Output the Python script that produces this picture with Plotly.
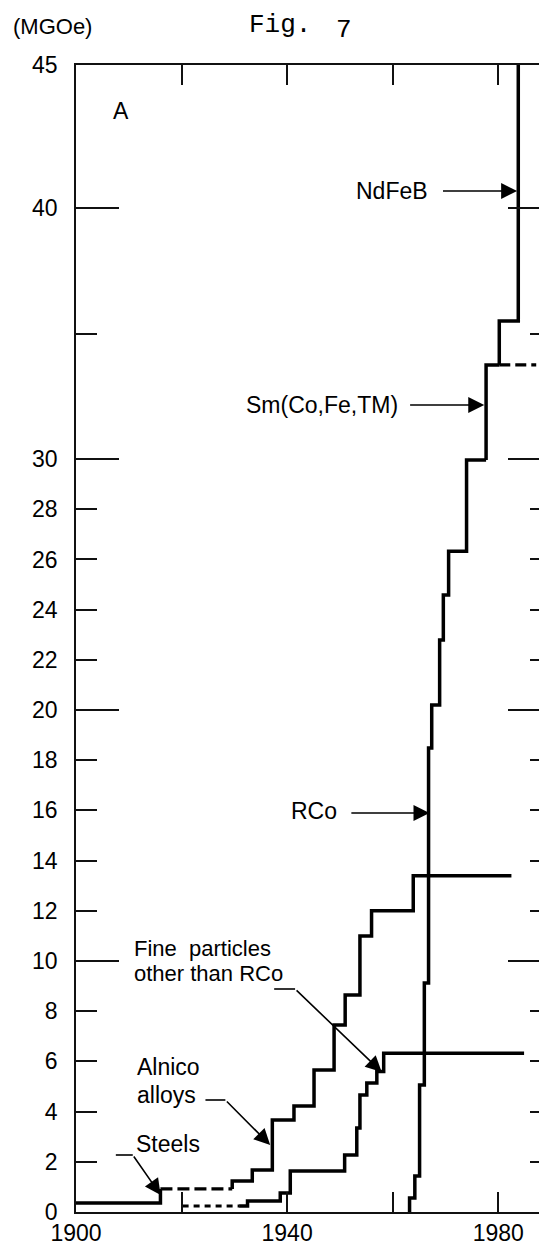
import plotly.graph_objects as go

# ---------------- data: year vs. (BH)max in MGOe ----------------
steel_years = [1900, 1916.0]
steel_vals = [0.36, 0.92]
steel_trans_years = [1916.0, 1929.6]
steel_trans_vals = [0.92, 0.92]

alnico_years = [1929.6, 1929.6, 1933.4, 1937.2, 1941.3, 1945.1, 1948.9, 1951.0, 1953.8, 1956.0, 1963.9, 1982.5]
alnico_vals = [0.92, 1.24, 1.67, 3.67, 4.22, 5.66, 7.45, 8.65, 11.0, 12.0, 13.4, 13.4]

fine_early_years = [1920.2, 1930.9]
fine_early_vals = [0.24, 0.24]
fine_years = [1930.9, 1932.5, 1938.7, 1940.6, 1950.9, 1953.2, 1953.8, 1955.1, 1957.0, 1958.3, 1984.9]
fine_vals = [0.24, 0.44, 0.76, 1.63, 2.27, 3.35, 4.66, 5.14, 5.6, 6.33, 6.33]

rco_years = [1963.2, 1964.2, 1965.1, 1966.0, 1966.8, 1967.4, 1968.9, 1969.6, 1970.6, 1974.0, 1977.7]
rco_vals = [0, 0.56, 1.43, 5.06, 9.12, 18.49, 20.2, 22.79, 24.58, 26.33, 29.96]

sm_years = [1977.7, 1980.2]
sm_vals = [29.96, 33.75]
sm_dash_years = [1980.2, 1987.2]
sm_dash_vals = [33.75, 33.75]

nd_years = [1980.2, 1983.8, 1983.8]
nd_vals = [33.75, 35.5, 46.0]

x_tick_vals = [1900, 1920, 1940, 1960, 1980]
x_tick_text = ["1900", "", "1940", "", "1980"]
y_tick_vals = [0, 2, 4, 6, 8, 10, 12, 14, 16, 18, 20, 22, 24, 26, 28, 30, 35, 40, 45.69]
y_tick_text = ["0", "2", "4", "6", "8", "10", "12", "14", "16", "18", "20", "22", "24",
               "26", "28", "30", "", "40", "45"]
y_major_vals = [10, 20, 30, 40]

# ---------------- layout geometry ----------------
W, H = 547, 1251
L, R, T, B = 68, 545, 57, 1204
X0, X1 = 1900, 1990
Y0, Y1 = 0, 45.7


def px_x(px):
    return X0 + (px - L) / (R - L) * (X1 - X0)


def px_y(py):
    return Y0 + (B - py) / (B - T) * (Y1 - Y0)


def paper_x(px):
    return (px - L) / (R - L)


def paper_y(py):
    return (B - py) / (B - T)


FONT = "Liberation Sans, Arial, Helvetica, sans-serif"
LW = 3.5

fig = go.Figure()


def add_line(xs, ys, shape="linear", dash="solid", width=LW):
    fig.add_trace(go.Scatter(x=xs, y=ys, mode="lines",
                             line=dict(color="black", width=width, shape=shape, dash=dash),
                             showlegend=False, hoverinfo="skip"))


add_line(steel_years, steel_vals, shape="hv")
add_line(steel_trans_years, steel_trans_vals, dash="12px,5px", width=3.2)
add_line(alnico_years, alnico_vals, shape="hv")
add_line(fine_early_years, fine_early_vals, dash="6px,5px", width=3.2)
add_line(fine_years, fine_vals, shape="hv")
add_line(rco_years, rco_vals, shape="vh")
add_line(sm_years, sm_vals, shape="vh")
add_line(sm_dash_years, sm_dash_vals, dash="11px,5px", width=3.2)
add_line(nd_years, nd_vals, shape="vh")

# ---------------- annotations ----------------
ann = []


def text(px, py, s, xanchor="center", size=23, fam=FONT, ref="data"):
    if ref == "data":
        ann.append(dict(x=px_x(px), y=px_y(py), xref="x", yref="y", text=s, showarrow=False,
                        xanchor=xanchor, yanchor="middle", font=dict(family=fam, size=size, color="black")))
    else:
        ann.append(dict(x=paper_x(px), y=paper_y(py), xref="paper", yref="paper", text=s,
                        showarrow=False, xanchor=xanchor, yanchor="middle",
                        font=dict(family=fam, size=size, color="black")))


def arrow(tx, ty, hx, hy):
    ann.append(dict(x=px_x(hx), y=px_y(hy), ax=px_x(tx), ay=px_y(ty), xref="x", yref="y",
                    axref="x", ayref="y", text="", showarrow=True, arrowhead=2,
                    arrowsize=2.0, arrowwidth=1.6, arrowcolor="black", standoff=0,
                    startstandoff=0))


text(44, 19, "(MGOe)", ref="paper", size=22)
text(240, 17, "Fig.", xanchor="left", ref="paper", size=26,
     fam="Liberation Mono, Courier New, monospace")
text(327, 22, "7", xanchor="left", ref="paper", size=26,
     fam="Liberation Mono, Courier New, monospace")
text(113, 103, "A")
text(423, 183, "NdFeB", xanchor="right")
text(393, 397, "Sm(Co,Fe,TM)", xanchor="right")
text(332, 803, "RCo", xanchor="right")
text(124, 940, "Fine  particles", xanchor="left", size=22)
text(124, 965, "other than RCo", xanchor="left", size=22)
text(127, 1059, "Alnico", xanchor="left")
text(127, 1087, "alloys", xanchor="left")
text(126, 1136, "Steels", xanchor="left")

arrow(435, 183, 511, 183)
arrow(402, 397, 478, 397)
arrow(343, 805, 423, 805)
arrow(288, 981, 375, 1064)
arrow(218, 1092, 263, 1137)
arrow(125, 1147, 153, 1187)

shapes = []
for (a, b, c) in [(267, 288, 981), (198, 218, 1092), (108, 125, 1147)]:
    shapes.append(dict(type="line", xref="x", yref="y", x0=px_x(a), x1=px_x(b),
                       y0=px_y(c), y1=px_y(c), line=dict(color="black", width=1.6)))

font_ticks = dict(family=FONT, size=23, color="black")

fig.update_layout(
    width=W, height=H,
    margin=dict(l=L, r=W - R, t=T, b=H - B, pad=0),
    paper_bgcolor="white", plot_bgcolor="white",
    showlegend=False,
    xaxis=dict(type="linear", range=[X0, X1], tickmode="array", tickvals=x_tick_vals,
               ticktext=x_tick_text, showgrid=False, zeroline=False, showline=True,
               linecolor="#111", linewidth=1.6, ticks="inside", ticklen=20, tickwidth=2,
               tickcolor="#111", mirror="ticks", tickfont=font_ticks),
    yaxis=dict(type="linear", range=[Y0, Y1], tickmode="array", tickvals=y_tick_vals,
               ticktext=y_tick_text, showgrid=False, zeroline=False, showline=True,
               linecolor="#111", linewidth=1.6, ticks="inside", ticklen=21, tickwidth=1.8,
               tickcolor="#111", mirror="ticks", ticklabelstandoff=12, tickfont=font_ticks),
    yaxis2=dict(type="linear", range=[Y0, Y1], overlaying="y", anchor="x", side="left",
                tickmode="array", tickvals=y_major_vals, showticklabels=False,
                showgrid=False, zeroline=False, showline=True, linecolor="#111",
                linewidth=1.6, ticks="inside", ticklen=43, tickwidth=1.8, tickcolor="#111",
                mirror="ticks"),
    annotations=ann,
    shapes=shapes,
)
fig.add_trace(go.Scatter(x=[X0], y=[Y0], yaxis="y2", mode="lines", showlegend=False,
                         hoverinfo="skip", line=dict(width=0)))

fig.write_html("out.html")
